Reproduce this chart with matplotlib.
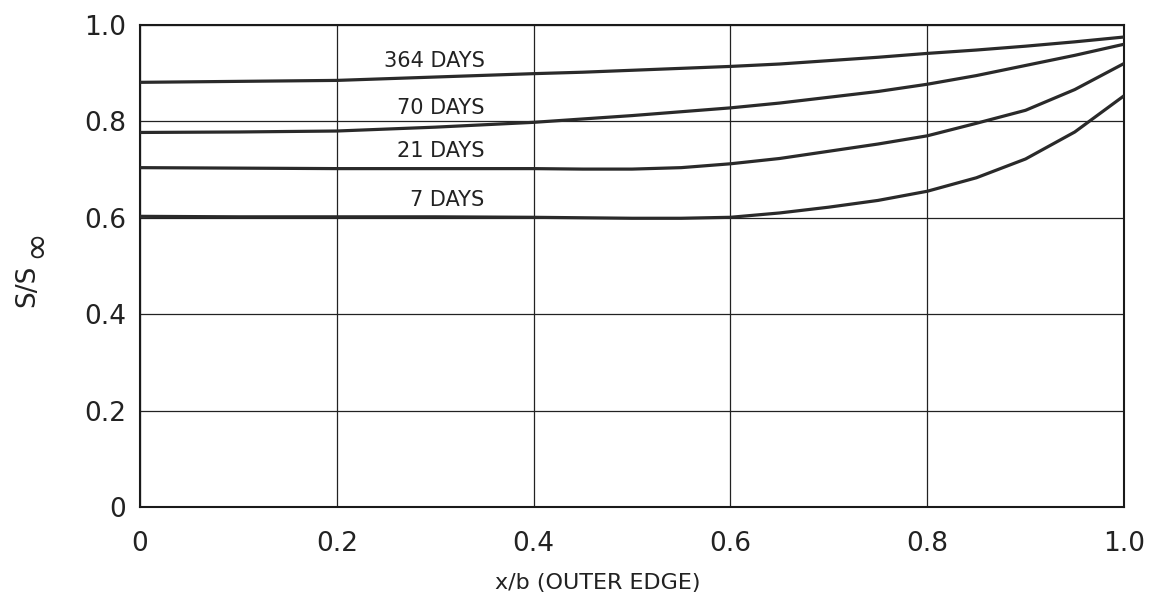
import numpy as np
import matplotlib.pyplot as plt

# x/b positions along the width, out to the outer edge
x_pos = [0.0, 0.1, 0.2, 0.3, 0.4, 0.45, 0.5, 0.55, 0.6, 0.65, 0.7, 0.75,
         0.8, 0.85, 0.9, 0.95, 1.0]

# S/S_inf at each x/b for each exposure time
s_364 = [0.881, 0.883, 0.885, 0.892, 0.899, 0.902, 0.906, 0.910, 0.914, 0.919,
         0.926, 0.933, 0.941, 0.948, 0.956, 0.965, 0.975]
s_70 = [0.777, 0.778, 0.780, 0.788, 0.798, 0.805, 0.812, 0.820, 0.828, 0.838,
        0.850, 0.862, 0.877, 0.895, 0.916, 0.937, 0.960]
s_21 = [0.704, 0.703, 0.702, 0.702, 0.702, 0.701, 0.701, 0.704, 0.712, 0.723,
        0.738, 0.753, 0.770, 0.796, 0.823, 0.866, 0.920]
s_7 = [0.603, 0.602, 0.602, 0.602, 0.601, 0.600, 0.599, 0.599, 0.601, 0.610,
       0.622, 0.636, 0.655, 0.683, 0.722, 0.778, 0.853]

curve_labels = ["364 DAYS", "70 DAYS", "21 DAYS", "7 DAYS"]
label_y = [0.925, 0.827, 0.738, 0.636]

x_ticks = [0, 0.2, 0.4, 0.6, 0.8, 1.0]
x_ticklabels = ["0", "0.2", "0.4", "0.6", "0.8", "1.0"]
y_ticks = [0, 0.2, 0.4, 0.6, 0.8, 1.0]
y_ticklabels = ["0", "0.2", "0.4", "0.6", "0.8", "1.0"]

plt.rcParams['font.family'] = ['DejaVu Sans']

fig = plt.figure(figsize=(11.61, 6.09), dpi=100)
ax = fig.add_axes([0.1206, 0.1675, 0.8475, 0.7915])

ink = '#2a2a2a'
for s in (s_364, s_70, s_21, s_7):
    ax.plot(x_pos, s, color=ink, lw=2.3, solid_capstyle='butt', zorder=3)

for lab, ly in zip(curve_labels, label_y):
    ax.text(0.35, ly, lab, ha='right', va='center', fontsize=15, color='#222222')

ax.set_xlim(0, 1.0)
ax.set_ylim(0, 1.0)
ax.set_xticks(x_ticks)
ax.set_xticklabels(x_ticklabels)
ax.set_yticks(y_ticks)
ax.set_yticklabels(y_ticklabels)
ax.tick_params(axis='both', length=0, labelsize=19, colors='#222222')
ax.tick_params(axis='x', pad=17)
ax.tick_params(axis='y', pad=10)
ax.grid(True, color='#222222', lw=0.9)
ax.set_axisbelow(True)
for sp in ax.spines.values():
    sp.set_linewidth(1.5)
    sp.set_color('#1a1a1a')

fig.text(598 / 1161, 1 - 583 / 609, "x/b (OUTER EDGE)", ha='center', va='center',
         fontsize=16, color='#222222')
# y label: S/S with a full-size infinity sign set just below the baseline
fig.text(27 / 1161, 1 - 286 / 609, "S/S", rotation=90, ha='center', va='center',
         fontsize=19, color='#222222')
fig.text(35 / 1161, 1 - 244 / 609, "\u221e", rotation=90, ha='center', va='center',
         fontsize=25, color='#222222')

fig.savefig("out.png", dpi=100)
